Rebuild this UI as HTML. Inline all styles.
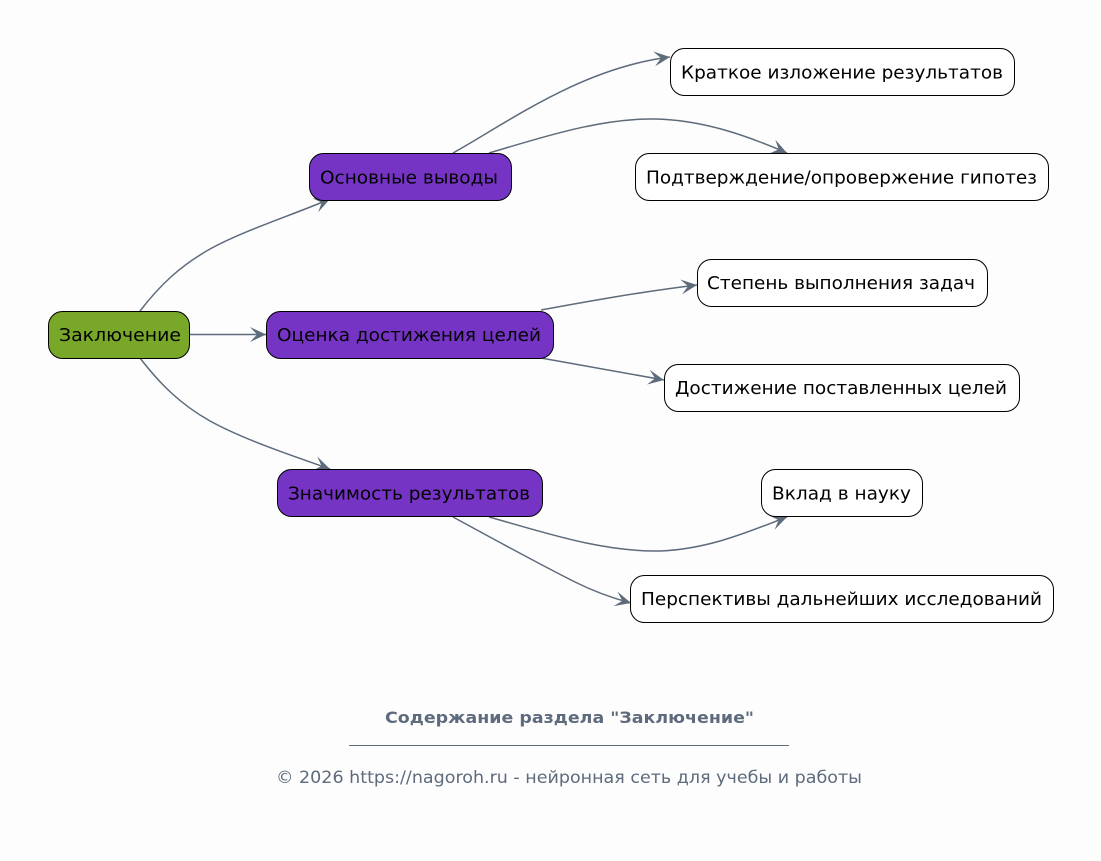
<!DOCTYPE html>
<html>
<head>
<meta charset="utf-8">
<style>
  html, body { margin: 0; padding: 0; background: #fdfdfd; }
  svg { display: block; }
  text { font-family: "DejaVu Sans", "Liberation Sans", sans-serif; }
</style>
</head>
<body>
<svg width="1101" height="861" viewBox="0 0 1101 861" xmlns="http://www.w3.org/2000/svg">
  <defs>
    <marker id="vee" markerUnits="userSpaceOnUse" viewBox="0 0 17 16" markerWidth="17" markerHeight="16" refX="16" refY="8" orient="auto">
      <path d="M0,0.5 L16,8 L0,15.5 L7,8 Z" fill="#5d6b7a"/>
    </marker>
  </defs>
  <rect x="0" y="0" width="1101" height="861" fill="#fdfdfd"/>

  <!-- edges -->
  <g fill="none" stroke="#5d6b7a" stroke-width="1.5" marker-end="url(#vee)">
    <path d="M140,311 C160,285 180,266 210,249 C245,230 290,216 330,199"/>
    <path d="M189,334.5 L266,334.5"/>
    <path d="M140,358 C160,384 180,404 210,421 C245,440 290,455 330,469"/>
    <path d="M453,153 C510,121 582,68 670,57"/>
    <path d="M489,153 C540,138 600,118 655,119 C705,120 750,137 787,153"/>
    <path d="M541,310 C590,301 640,292 697,285"/>
    <path d="M541,358 C580,365 620,372 664,380"/>
    <path d="M489,517 C540,531 600,552 660,551 C710,549 750,531 787,517"/>
    <path d="M453,517 C490,537 535,562 575,582 C595,592 612,598 631,603"/>
  </g>

  <!-- nodes -->
  <g stroke="#000" stroke-width="1">
    <rect x="48.5" y="311.5" width="141" height="47" rx="14" ry="14" fill="#79a72a"/>
    <rect x="309.5" y="153.5" width="202" height="47" rx="14" ry="14" fill="#7634c5"/>
    <rect x="266.5" y="311.5" width="287" height="47" rx="14" ry="14" fill="#7634c5"/>
    <rect x="277.5" y="469.5" width="265" height="47" rx="14" ry="14" fill="#7634c5"/>
    <rect x="670.5" y="48.5" width="344" height="47" rx="14" ry="14" fill="#ffffff"/>
    <rect x="635.5" y="153.5" width="413" height="47" rx="14" ry="14" fill="#ffffff"/>
    <rect x="697.5" y="259.5" width="290" height="47" rx="14" ry="14" fill="#ffffff"/>
    <rect x="664.5" y="364.5" width="355" height="47" rx="14" ry="14" fill="#ffffff"/>
    <rect x="761.5" y="469.5" width="161" height="47" rx="14" ry="14" fill="#ffffff"/>
    <rect x="630.5" y="575.5" width="423" height="47" rx="14" ry="14" fill="#ffffff"/>
  </g>

  <!-- node labels -->
  <g font-size="18" fill="#000" text-anchor="middle">
    <text x="120" y="341" textLength="122" lengthAdjust="spacingAndGlyphs">Заключение</text>
    <text x="409" y="183.5" textLength="178" lengthAdjust="spacingAndGlyphs">Основные выводы</text>
    <text x="409" y="341" textLength="264" lengthAdjust="spacingAndGlyphs">Оценка достижения целей</text>
    <text x="409" y="499.5" textLength="242" lengthAdjust="spacingAndGlyphs">Значимость результатов</text>
    <text x="842" y="78.5" textLength="322" lengthAdjust="spacingAndGlyphs">Краткое изложение результатов</text>
    <text x="841.5" y="183.5" textLength="391" lengthAdjust="spacingAndGlyphs">Подтверждение/опровержение гипотез</text>
    <text x="841" y="289" textLength="268" lengthAdjust="spacingAndGlyphs">Степень выполнения задач</text>
    <text x="841" y="394" textLength="332" lengthAdjust="spacingAndGlyphs">Достижение поставленных целей</text>
    <text x="841.5" y="499.5" textLength="139" lengthAdjust="spacingAndGlyphs">Вклад в науку</text>
    <text x="841.5" y="605" textLength="401" lengthAdjust="spacingAndGlyphs">Перспективы дальнейших исследований</text>
  </g>

  <!-- footer -->
  <text x="569.5" y="723" font-size="16" font-weight="bold" fill="#5d6b7c" text-anchor="middle" textLength="369" lengthAdjust="spacingAndGlyphs">Содержание раздела "Заключение"</text>
  <line x1="349" y1="745.5" x2="789" y2="745.5" stroke="#5d6b7c" stroke-width="1"/>
  <text x="569" y="783" font-size="17" fill="#5d6b7c" text-anchor="middle" textLength="586" lengthAdjust="spacingAndGlyphs">© 2026 https://nagoroh.ru - нейронная сеть для учебы и работы</text>
</svg>
</body>
</html>
